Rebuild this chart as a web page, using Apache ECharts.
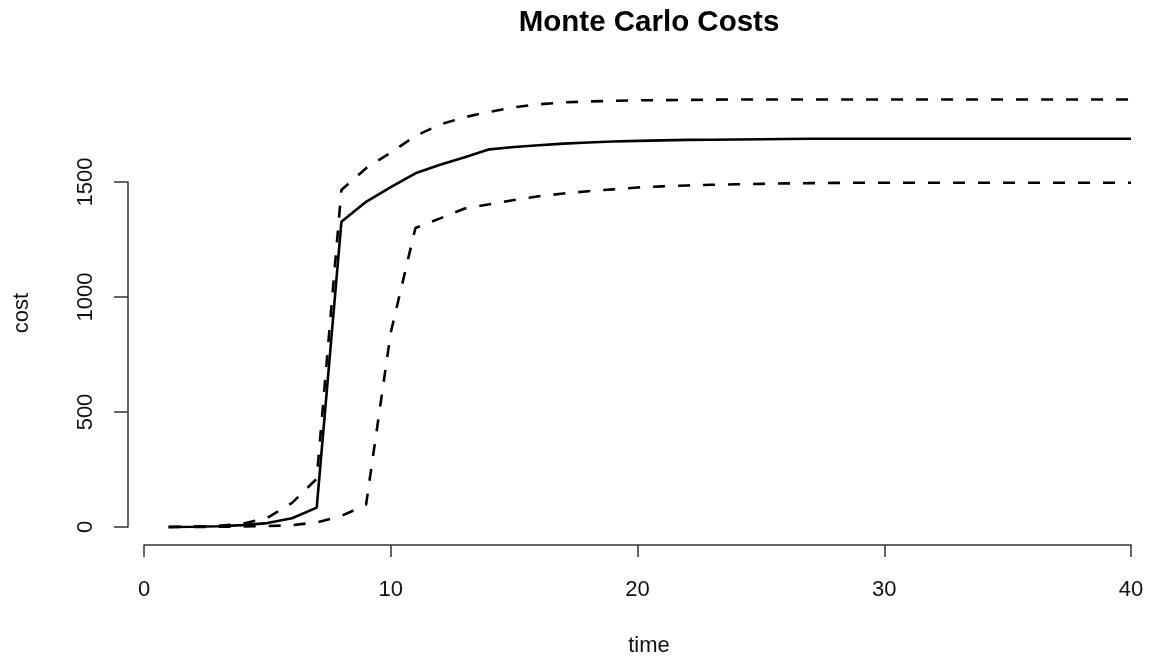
<!DOCTYPE html>
<html>
<head>
<meta charset="utf-8">
<script src="https://cdn.jsdelivr.net/npm/echarts@6/dist/echarts.min.js"></script>
<style>html,body{margin:0;padding:0;background:#fff;}#c{width:1154px;height:658px;}</style>
</head>
<body>
<div id="c"></div>
<script>
const time = [1,2,3,4,5,6,7,8,9,10,11,12,13,14,15,16,17,18,19,20,21,22,23,24,25,26,27,28,29,30,31,32,33,34,35,36,37,38,39,40];
const meanCost = [0,1,3,8,17,38,84,1327,1414,1478,1538,1575,1608,1642,1652,1660,1667,1672,1676,1679,1681,1683,1684,1685,1686,1687,1688,1688,1688,1688,1688,1688,1688,1688,1688,1688,1688,1688,1688,1688];
const upperCost = [0,2,5,14,40,105,210,1465,1560,1628,1700,1750,1782,1805,1825,1838,1846,1850,1853,1855,1856,1857,1858,1859,1859,1859,1859,1859,1859,1859,1859,1859,1859,1859,1859,1859,1859,1859,1859,1859];
const lowerCost = [0,0,1,2,4,8,20,48,97,845,1300,1342,1385,1403,1422,1438,1450,1460,1468,1476,1481,1485,1488,1490,1492,1494,1495,1496,1497,1497,1497,1497,1497,1497,1497,1497,1497,1497,1497,1497];
const xTicks = [0,10,20,30,40];
const yTicks = [0,500,1000,1500];
const titleText = 'Monte Carlo Costs';
const xName = 'time';
const yName = 'cost';

const pair = (ys) => time.map((t,i)=>[t, ys[i]]);
const chart = echarts.init(document.getElementById('c'), null, {renderer:'canvas'});
const font = 'Liberation Sans, Arial, sans-serif';
const axisCol = '#333';
chart.setOption({
  animation:false,
  backgroundColor:'#fff',
  grid:{left:144, right:23, top:182, bottom:131},
  xAxis:{type:'value', min:xTicks[0], max:xTicks[xTicks.length-1], interval:10, offset:18,
    axisLine:{show:true, onZero:false, lineStyle:{color:axisCol, width:1.5}},
    axisTick:{show:true, length:12, lineStyle:{color:axisCol, width:1.5}},
    axisLabel:{margin:34, fontSize:22, color:'#111', fontFamily:font, formatter:(v)=>String(v)},
    splitLine:{show:false}},
  yAxis:{type:'value', min:yTicks[0], max:yTicks[yTicks.length-1], interval:500, offset:16,
    axisLine:{show:true, onZero:false, lineStyle:{color:axisCol, width:1.5}},
    axisTick:{show:true, length:14, lineStyle:{color:axisCol, width:1.5}},
    axisLabel:{margin:31, fontSize:22, color:'#111', fontFamily:font, rotate:90, formatter:(v)=>String(v)},
    splitLine:{show:false}},
  graphic:[
    {type:'text', x:649, y:23, style:{text:titleText, font:'bold 29.5px Liberation Sans, Arial, sans-serif', fill:'#000', textAlign:'center', textVerticalAlign:'middle'}},
    {type:'text', x:649, y:646, style:{text:xName, font:'22px Liberation Sans, Arial, sans-serif', fill:'#111', textAlign:'center', textVerticalAlign:'middle'}},
    {type:'text', x:22, y:313, rotation:Math.PI/2, style:{text:yName, font:'22px Liberation Sans, Arial, sans-serif', fill:'#111', textAlign:'center', textVerticalAlign:'middle'}}
  ],
  series:[
    {type:'line', data:pair(meanCost), showSymbol:false, clip:false, lineStyle:{color:'#000', width:2.6, type:'solid'}},
    {type:'line', data:pair(upperCost), showSymbol:false, clip:false, lineStyle:{color:'#000', width:2.6, type:[12,13]}},
    {type:'line', data:pair(lowerCost), showSymbol:false, clip:false, lineStyle:{color:'#000', width:2.6, type:[12,13]}}
  ]
});
</script>
</body>
</html>
